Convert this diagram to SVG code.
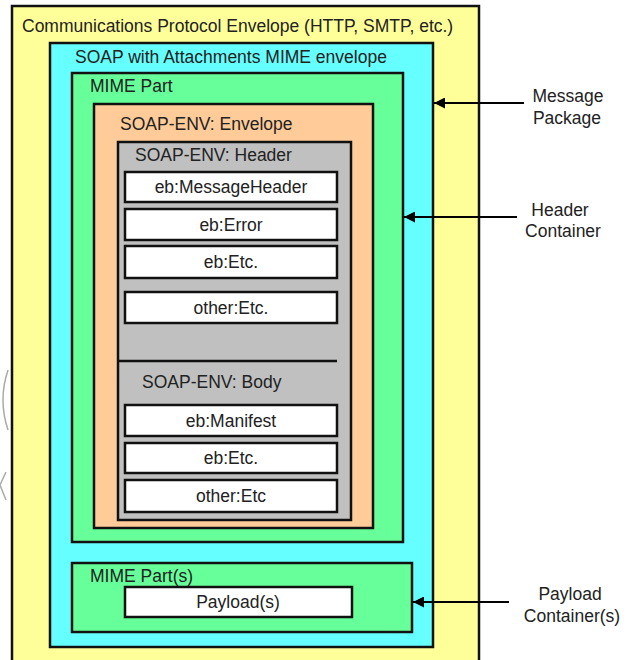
<svg xmlns="http://www.w3.org/2000/svg" width="628" height="660" viewBox="0 0 628 660">
  <defs>
    <marker id="arrowHead" viewBox="0 0 10 10" refX="10" refY="5" markerWidth="5.5" markerHeight="5.5" orient="auto" markerUnits="strokeWidth">
      <path d="M0,0 L10,5 L0,10 Z" fill="#000"/>
    </marker>
  </defs>
  <style>
    .box { stroke: #111; stroke-width: 2.5; }
    .protocol { fill: #FFFF99; }
    .soap { fill: #66FFFF; }
    .mime { fill: #66FF99; }
    .env { fill: #FFCC99; }
    .hdr { fill: #C0C0C0; }
    .item { fill: #FFFFFF; stroke: #111; stroke-width: 2.5; }
    text { font-family: "Liberation Sans", Arial, sans-serif; font-size: 17.5px; fill: #222; }
    .mid { text-anchor: middle; }
    .conn { stroke: #000; stroke-width: 2; fill: none; marker-end: url(#arrowHead); }
  </style>
  <rect width="628" height="660" fill="#FFFFFF"/>

  <!-- faint curves on the left edge -->
  <path d="M8,370 Q-2,400 8,430" stroke="#AAAAAA" stroke-width="1.5" fill="none"/>
  <path d="M6,472 L0,485 L6,500" stroke="#AAAAAA" stroke-width="1.5" fill="none"/>

  <g id="protocol-envelope">
    <rect class="box protocol" x="12" y="6" width="467" height="670"/>
    <text x="22" y="32">Communications Protocol Envelope (HTTP, SMTP, etc.)</text>
  </g>

  <g id="soap-mime-envelope">
    <rect class="box soap" x="50" y="43" width="383" height="604"/>
    <text x="75" y="63">SOAP with Attachments MIME envelope</text>
  </g>

  <g id="mime-part">
    <rect class="box mime" x="72" y="73" width="331" height="469"/>
    <text x="90" y="92">MIME Part</text>
  </g>

  <g id="soap-envelope">
    <rect class="box env" x="94" y="104" width="279" height="424"/>
    <text x="120" y="130">SOAP-ENV: Envelope</text>
  </g>

  <g id="soap-header-body">
    <rect class="box hdr" x="118" y="142" width="233" height="378"/>
    <text x="135" y="161">SOAP-ENV: Header</text>
    <line x1="118" y1="361" x2="337" y2="361" stroke="#111" stroke-width="2.5"/>
    <text x="142" y="388">SOAP-ENV: Body</text>
  </g>

  <g id="message-header">
    <rect class="item" x="125" y="172" width="212" height="30"/>
    <text class="mid" x="231" y="193">eb:MessageHeader</text>
  </g>
  <g id="error">
    <rect class="item" x="125" y="209" width="212" height="31"/>
    <text class="mid" x="231" y="231">eb:Error</text>
  </g>
  <g id="header-etc">
    <rect class="item" x="125" y="246" width="212" height="32"/>
    <text class="mid" x="231" y="268">eb:Etc.</text>
  </g>
  <g id="header-other">
    <rect class="item" x="125" y="292" width="212" height="31"/>
    <text class="mid" x="231" y="314">other:Etc.</text>
  </g>

  <g id="manifest">
    <rect class="item" x="125" y="405" width="212" height="31"/>
    <text class="mid" x="231" y="427">eb:Manifest</text>
  </g>
  <g id="body-etc">
    <rect class="item" x="125" y="443" width="212" height="30"/>
    <text class="mid" x="231" y="464">eb:Etc.</text>
  </g>
  <g id="body-other">
    <rect class="item" x="125" y="480" width="212" height="32"/>
    <text class="mid" x="231" y="502">other:Etc</text>
  </g>

  <g id="payload-part">
    <rect class="box mime" x="72" y="563" width="340" height="69"/>
    <text x="90" y="582">MIME Part(s)</text>
  </g>
  <g id="payload">
    <rect class="item" x="125" y="587" width="227" height="30"/>
    <text class="mid" x="238" y="608">Payload(s)</text>
  </g>

  <g id="connectors">
    <line class="conn" x1="524" y1="103" x2="434" y2="103"/>
    <line class="conn" x1="517" y1="217" x2="404" y2="217"/>
    <line class="conn" x1="509" y1="602" x2="413" y2="602"/>
  </g>

  <g id="labels">
    <text class="mid" x="568" y="102">Message</text>
    <text class="mid" x="567" y="124">Package</text>
    <text class="mid" x="560" y="216">Header</text>
    <text class="mid" x="563" y="237">Container</text>
    <text class="mid" x="570" y="600">Payload</text>
    <text class="mid" x="572" y="622">Container(s)</text>
  </g>
</svg>
